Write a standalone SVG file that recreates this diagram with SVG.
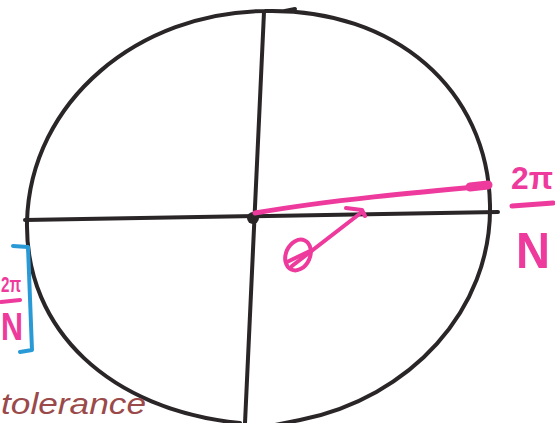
<svg xmlns="http://www.w3.org/2000/svg" width="555" height="423" viewBox="0 0 555 423">
<style>
.ink{fill:none;stroke:#2a2628;stroke-width:4;stroke-linecap:round;stroke-linejoin:round}
.pink{fill:none;stroke:#ee3a9c;stroke-linecap:round;stroke-linejoin:round}
.pt{fill:#ee3a9c;font-family:"Liberation Sans",sans-serif;font-weight:bold}
.blue{fill:none;stroke:#2a9ad6;stroke-width:4;stroke-linecap:round;stroke-linejoin:round}
.brown{fill:#9a4a4a;font-family:"Liberation Sans",sans-serif;font-style:italic}
</style>
<rect width="555" height="423" fill="#ffffff"/>
<g id="circle">
<path class="ink" d="M265,11 C395,8 488,90 490,205 C492,310 410,398 300,420 L250,430 M265,11 C140,12 30,100 27,222 C25,330 110,410 240,423"/>
<path class="ink" d="M285,11 L295,9"/>
</g>
<g id="connectors">
<path class="ink" d="M25,220 L498,212"/>
<path class="ink" d="M264,12 L245,423"/>
<circle cx="253" cy="218" r="6" fill="#2a2628"/>
<path class="pink" stroke-width="5" d="M255,213 C330,200 420,192 488,186"/>
<path class="pink" stroke-width="9" d="M470,187 L488,185"/>
<path class="pink" stroke-width="4" d="M292,266 L362,212 M346,208 L362,210 L365,216"/>
</g>
<g id="theta">
<ellipse class="pink" stroke-width="4" cx="298" cy="255" rx="12" ry="16" transform="rotate(25 298 255)"/>
<path class="pink" stroke-width="4" d="M287,262 L312,250"/>
</g>
<g id="label-right">
<text class="pt" x="511" y="189" font-size="32" textLength="42" lengthAdjust="spacingAndGlyphs">2π</text>
<path class="pink" stroke-width="5" d="M512,206 L553,203"/>
<text class="pt" x="516" y="268" font-size="50" textLength="34" lengthAdjust="spacingAndGlyphs">N</text>
</g>
<g id="label-left">
<text class="pt" x="1" y="292" font-size="22" textLength="20" lengthAdjust="spacingAndGlyphs">2π</text>
<path class="pink" stroke-width="4" d="M1,302 L20,300"/>
<text class="pt" x="1" y="340" font-size="38" textLength="22" lengthAdjust="spacingAndGlyphs">N</text>
<path class="blue" d="M13,246 L28,247 L32,350 L20,352"/>
</g>
<g id="note">
<text class="brown" x="1" y="414" font-size="30" textLength="145" lengthAdjust="spacingAndGlyphs">tolerance</text>
</g>
</svg>
